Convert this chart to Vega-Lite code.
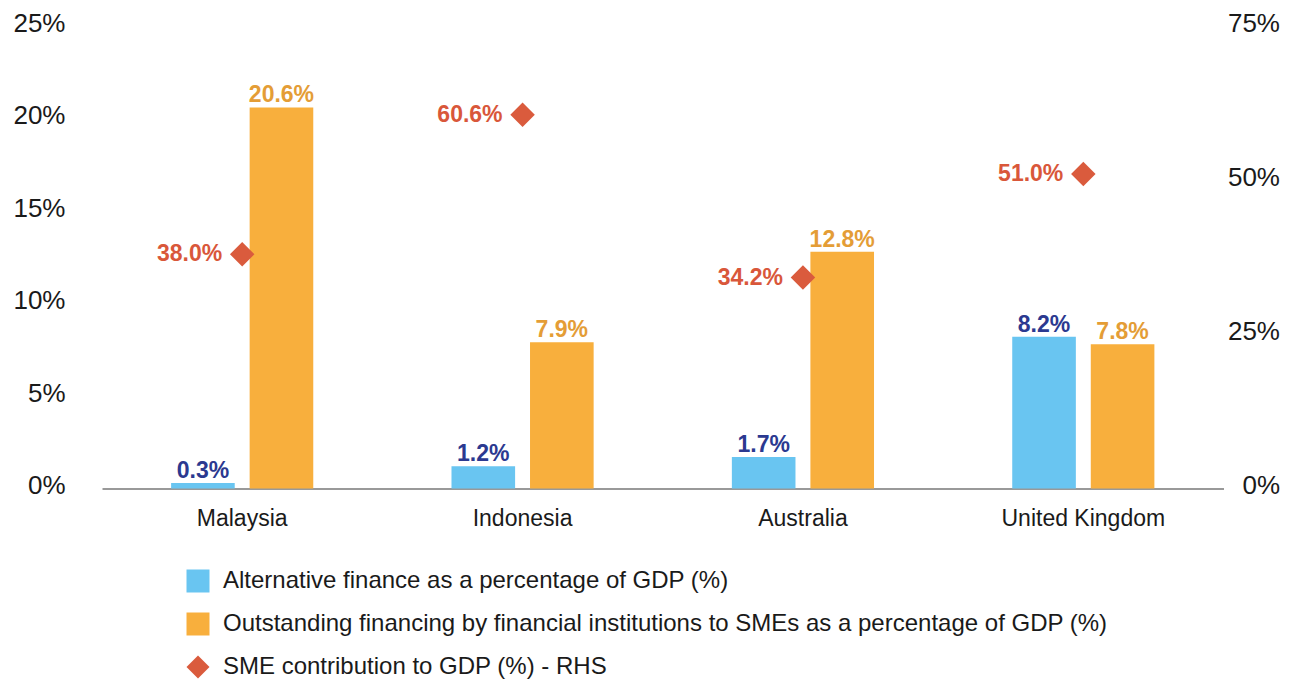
{
  "$schema": "https://vega.github.io/schema/vega-lite/v6.json",
  "width": 1121.5,
  "height": 462.5,
  "autosize": "none",
  "padding": {"left": 102, "top": 26, "right": 71.5, "bottom": 190.5},
  "background": "white",
  "config": {
    "font": "Liberation Sans",
    "view": {"stroke": null}
  },
  "data": {
    "values": [
      {"country": "Malaysia", "series": "Alternative finance as a percentage of GDP (%)", "value": 0.003},
      {"country": "Indonesia", "series": "Alternative finance as a percentage of GDP (%)", "value": 0.012},
      {"country": "Australia", "series": "Alternative finance as a percentage of GDP (%)", "value": 0.017},
      {"country": "United Kingdom", "series": "Alternative finance as a percentage of GDP (%)", "value": 0.082},
      {"country": "Malaysia", "series": "Outstanding financing by financial institutions to SMEs as a percentage of GDP (%)", "value": 0.206},
      {"country": "Indonesia", "series": "Outstanding financing by financial institutions to SMEs as a percentage of GDP (%)", "value": 0.079},
      {"country": "Australia", "series": "Outstanding financing by financial institutions to SMEs as a percentage of GDP (%)", "value": 0.128},
      {"country": "United Kingdom", "series": "Outstanding financing by financial institutions to SMEs as a percentage of GDP (%)", "value": 0.078},
      {"country": "Malaysia", "series": "SME contribution to GDP (%) - RHS", "value": 0.380},
      {"country": "Indonesia", "series": "SME contribution to GDP (%) - RHS", "value": 0.606},
      {"country": "Australia", "series": "SME contribution to GDP (%) - RHS", "value": 0.342},
      {"country": "United Kingdom", "series": "SME contribution to GDP (%) - RHS", "value": 0.510}
    ]
  },
  "layer": [
    {
      "transform": [{"filter": "datum.series !== 'SME contribution to GDP (%) - RHS'"}],
      "encoding": {
        "x": {
          "field": "country",
          "type": "nominal",
          "sort": ["Malaysia", "Indonesia", "Australia", "United Kingdom"],
          "scale": {"paddingInner": 0.493, "paddingOuter": 0.2465},
          "axis": {
            "title": null,
            "labelAngle": 0,
            "labelFontSize": 23,
            "labelColor": "#1a1a1a",
            "labelPadding": 19,
            "ticks": false,
            "domainColor": "#777777",
            "domainWidth": 1.5
          }
        },
        "xOffset": {
          "field": "series",
          "type": "nominal",
          "scale": {
            "domain": ["Alternative finance as a percentage of GDP (%)", "Outstanding financing by financial institutions to SMEs as a percentage of GDP (%)"],
            "paddingInner": 0.19,
            "paddingOuter": 0
          }
        },
        "y": {
          "field": "value",
          "type": "quantitative",
          "scale": {"domain": [0, 0.25], "nice": false},
          "axis": {
            "title": null,
            "values": [0, 0.05, 0.1, 0.15, 0.2, 0.25],
            "format": ".0%",
            "grid": false,
            "domain": false,
            "ticks": false,
            "labelFontSize": 26,
            "labelColor": "#1a1a1a",
            "labelPadding": 37,
            "labelOffset": -3
          }
        }
      },
      "layer": [
        {
          "mark": {"type": "bar"},
          "encoding": {
            "color": {
              "field": "series",
              "type": "nominal",
              "scale": {
                "domain": ["Alternative finance as a percentage of GDP (%)", "Outstanding financing by financial institutions to SMEs as a percentage of GDP (%)", "SME contribution to GDP (%) - RHS"],
                "range": ["#69C5F1", "#F8AF3D", "#DA5B3D"]
              },
              "legend": {
                "title": null,
                "orient": "none",
                "legendX": 84,
                "legendY": 543,
                "direction": "vertical",
                "padding": 0,
                "labelFontSize": 24,
                "labelColor": "#1a1a1a",
                "labelLimit": 0,
                "labelOffset": 13,
                "rowPadding": 19,
                "symbolSize": 529,
                "symbolStrokeWidth": 0
              }
            }
          }
        },
        {
          "mark": {"type": "text", "baseline": "alphabetic", "dy": -5, "fontSize": 23, "fontWeight": "bold"},
          "encoding": {
            "text": {"field": "value", "type": "quantitative", "format": ".1%"},
            "color": {
              "condition": {"test": "datum.series === 'Alternative finance as a percentage of GDP (%)'", "value": "#2B3990"},
              "value": "#E49D36"
            }
          }
        }
      ]
    },
    {
      "transform": [{"filter": "datum.series === 'SME contribution to GDP (%) - RHS'"}],
      "encoding": {
        "x": {
          "field": "country",
          "type": "nominal",
          "sort": ["Malaysia", "Indonesia", "Australia", "United Kingdom"]
        },
        "y": {
          "field": "value",
          "type": "quantitative",
          "scale": {"domain": [0, 0.75], "nice": false},
          "axis": {
            "orient": "right",
            "title": null,
            "values": [0, 0.25, 0.5, 0.75],
            "format": ".0%",
            "grid": false,
            "domain": false,
            "ticks": false,
            "labelFontSize": 26,
            "labelColor": "#1a1a1a",
            "labelAlign": "right",
            "labelPadding": 56,
            "labelOffset": -3
          }
        }
      },
      "layer": [
        {
          "mark": {"type": "point", "filled": true, "opacity": 1, "size": 600},
          "encoding": {
            "color": {"field": "series", "type": "nominal"},
            "shape": {
              "field": "series",
              "type": "nominal",
              "scale": {
                "domain": ["Alternative finance as a percentage of GDP (%)", "Outstanding financing by financial institutions to SMEs as a percentage of GDP (%)", "SME contribution to GDP (%) - RHS"],
                "range": ["square", "square", "diamond"]
              },
              "legend": {"title": null}
            }
          }
        },
        {
          "mark": {"type": "text", "align": "right", "baseline": "middle", "dx": -20, "fontSize": 23, "fontWeight": "bold", "color": "#D9573A"},
          "encoding": {
            "text": {"field": "value", "type": "quantitative", "format": ".1%"}
          }
        }
      ]
    }
  ],
  "resolve": {"scale": {"y": "independent"}}
}
